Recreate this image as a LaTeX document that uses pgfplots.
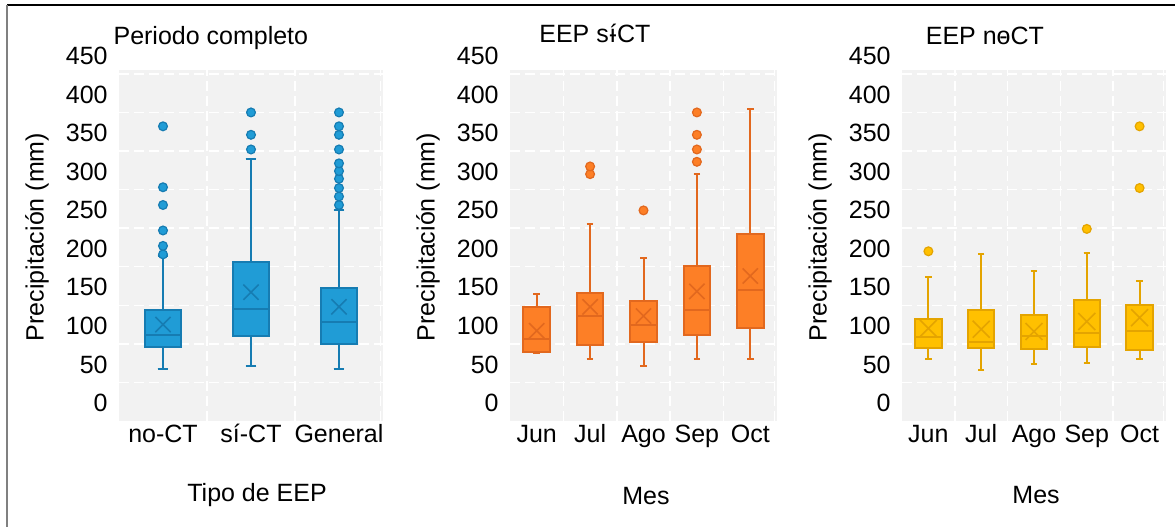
\documentclass[border=0pt]{standalone}
\usepackage{fontspec}
\setmainfont{Liberation Sans}
\usepackage{pgfplots}
\pgfplotsset{compat=1.18}
\usepgfplotslibrary{statistics}
\definecolor{bggray}{RGB}{242,242,242}
\definecolor{bluef}{RGB}{32,156,214}
\definecolor{blued}{RGB}{22,124,178}
\definecolor{orgf}{RGB}{253,127,38}
\definecolor{orgd}{RGB}{226,104,30}
\definecolor{yelf}{RGB}{255,192,0}
\definecolor{yeld}{RGB}{228,164,0}

\pgfplotsset{
  panel/.style={
    scale only axis, height=175.5pt,
    ymin=0, ymax=455,
    boxplot/draw direction=y,
    ytick={50,100,...,450},
    extra y ticks={0}, extra y tick style={grid=none},
    axis background/.style={fill=bggray},
    axis line style={draw=none},
    major tick length=0pt, minor tick length=0pt,
    ymajorgrids=true, xminorgrids=true,
    major grid style={white, line width=0.75pt, dash pattern=on 5pt off 2.5pt},
    minor grid style={white, line width=0.75pt, dash pattern=on 5pt off 2.5pt},
    /pgf/number format/assume math mode=true,
    yticklabel style={anchor=east, inner sep=0pt, xshift=-5.5pt, yshift=9pt},
    xticklabel style={anchor=north, inner sep=0pt, yshift=-1.5pt,
                      text height=0.72em, text depth=0.21em},
    % the default title style shifts up by 6pt; cancel it
    title style={anchor=base, inner sep=0pt, yshift=-6pt},
    ylabel={Precipitación (mm)},
    ylabel style={anchor=center},
    xlabel style={anchor=center},
    clip=false,
  },
  bluebox/.style={draw=blued, fill=bluef, line width=1pt, solid},
  orgbox/.style={draw=orgd, fill=orgf, line width=1pt, solid},
  yelbox/.style={draw=yeld, fill=yelf, line width=1pt, solid},
}

\begin{document}
\fontsize{12.5}{15}\selectfont
\begin{tikzpicture}
\useasboundingbox (0,0) rectangle (587.5pt,263.5pt);
\draw[black, line width=1pt] (3.5pt,261pt) -- (587.5pt,261pt);
\draw[gray, line width=1pt] (3.5pt,261pt) -- (3.5pt,0pt);

% Periodo completo
\begin{axis}[panel, at={(59.5pt,53pt)}, anchor=south west, width=132pt,
  xmin=0.5, xmax=3.5,
  xtick={1,2,3}, xticklabels={no-CT, sí-CT, General},
  minor xtick={1.5,2.5,3.47},
  title={Periodo completo},
  title style={at={(axis description cs:0.348,1.073)}},
  xlabel={Tipo de EEP},
  xlabel style={at={(axis description cs:0.523,-0.212)}},
  ylabel style={at={(axis description cs:-0.311,0.524)}},
]
\addplot[bluebox, boxplot prepared={draw position=1, lower whisker=68, lower quartile=96,
  median=112, upper quartile=144, upper whisker=214, box extend=0.4, whisker extend=0.12}]
  coordinates {};
\addplot[bluebox, boxplot prepared={draw position=2, lower whisker=71, lower quartile=110,
  median=145, upper quartile=206, upper whisker=340, box extend=0.4, whisker extend=0.12}]
  coordinates {};
\addplot[bluebox, boxplot prepared={draw position=3, lower whisker=68, lower quartile=100,
  median=128, upper quartile=173, upper whisker=273, box extend=0.4, whisker extend=0.12}]
  coordinates {};
% means
\addplot[only marks, mark=x, mark size=5.4pt, blued, mark options={line width=0.8pt}]
  coordinates {(1,125)(2,167)(3,148)};
% outliers
\addplot[only marks, mark=*, mark size=2.2pt, mark options={fill=bluef, draw=blued, line width=0.6pt}]
  coordinates {(1,216)(1,227)(1,247)(1,280)(1,303)(1,382)
               (2,352)(2,371)(2,400)
               (3,280)(3,291)(3,302)(3,314)(3,324)(3,334)(3,352)(3,371)(3,382)(3,400)};
\end{axis}

% EEP si-CT
\begin{axis}[panel, at={(255pt,53pt)}, anchor=south west, width=133.5pt,
  xmin=0.5, xmax=5.5,
  xtick={1,2,3,4,5}, xticklabels={Jun, Jul, Ago, Sep, Oct},
  minor xtick={1.5,2.5,3.5,4.5,5.45},
  title={EEP s\makebox[0pt][l]{\hspace{0.028em}í}-CT},
  title style={at={(axis description cs:0.318,1.079)}},
  xlabel={Mes},
  xlabel style={at={(axis description cs:0.509,-0.214)}},
  ylabel style={at={(axis description cs:-0.307,0.524)}},
]
\addplot[orgbox, boxplot prepared={draw position=1, lower whisker=88, lower quartile=90,
  median=106, upper quartile=148, upper whisker=165, box extend=0.5, whisker extend=0.12}]
  coordinates {};
\addplot[orgbox, boxplot prepared={draw position=2, lower whisker=81, lower quartile=99,
  median=136, upper quartile=166, upper whisker=256, box extend=0.5, whisker extend=0.12}]
  coordinates {};
\addplot[orgbox, boxplot prepared={draw position=3, lower whisker=71, lower quartile=103,
  median=125, upper quartile=155, upper whisker=211, box extend=0.5, whisker extend=0.12}]
  coordinates {};
\addplot[orgbox, boxplot prepared={draw position=4, lower whisker=80, lower quartile=111,
  median=144, upper quartile=201, upper whisker=320, box extend=0.5, whisker extend=0.12}]
  coordinates {};
\addplot[orgbox, boxplot prepared={draw position=5, lower whisker=80, lower quartile=120,
  median=170, upper quartile=243, upper whisker=404, box extend=0.5, whisker extend=0.12}]
  coordinates {};
\addplot[only marks, mark=x, mark size=5.4pt, orgd, mark options={line width=0.8pt}]
  coordinates {(1,117)(2,148)(3,136)(4,168)(5,188)};
\addplot[only marks, mark=*, mark size=2.2pt, mark options={fill=orgf, draw=orgd, line width=0.6pt}]
  coordinates {(2,320)(2,330)(3,273)(4,336)(4,352)(4,371)(4,400)};
\end{axis}

% EEP no-CT
\begin{axis}[panel, at={(451pt,53pt)}, anchor=south west, width=132pt,
  xmin=0.5, xmax=5.5,
  xtick={1,2,3,4,5}, xticklabels={Jun, Jul, Ago, Sep, Oct},
  minor xtick={1.5,2.5,3.5,4.5,5.45},
  title={EEP n\makebox[0pt][l]{\hspace{0.11em}-}oCT},
  title style={at={(axis description cs:0.314,1.073)}},
  xlabel={Mes},
  xlabel style={at={(axis description cs:0.508,-0.212)}},
  ylabel style={at={(axis description cs:-0.311,0.524)}},
]
\addplot[yelbox, boxplot prepared={draw position=1, lower whisker=80, lower quartile=94,
  median=109, upper quartile=132, upper whisker=187, box extend=0.5, whisker extend=0.12}]
  coordinates {};
\addplot[yelbox, boxplot prepared={draw position=2, lower whisker=66, lower quartile=94,
  median=102, upper quartile=144, upper whisker=216, box extend=0.5, whisker extend=0.12}]
  coordinates {};
\addplot[yelbox, boxplot prepared={draw position=3, lower whisker=74, lower quartile=93,
  median=110, upper quartile=137, upper whisker=195, box extend=0.5, whisker extend=0.12}]
  coordinates {};
\addplot[yelbox, boxplot prepared={draw position=4, lower whisker=75, lower quartile=96,
  median=114, upper quartile=157, upper whisker=218, box extend=0.5, whisker extend=0.12}]
  coordinates {};
\addplot[yelbox, boxplot prepared={draw position=5, lower whisker=80, lower quartile=92,
  median=117, upper quartile=151, upper whisker=181, box extend=0.5, whisker extend=0.12}]
  coordinates {};
\addplot[only marks, mark=x, mark size=6pt, yeld, mark options={line width=0.8pt}]
  coordinates {(1,120)(2,119)(3,116)(4,129)(5,134)};
\addplot[only marks, mark=*, mark size=2.2pt, mark options={fill=yelf, draw=yeld, line width=0.6pt}]
  coordinates {(1,220)(4,249)(5,302)(5,382)};
\end{axis}
\end{tikzpicture}
\end{document}
